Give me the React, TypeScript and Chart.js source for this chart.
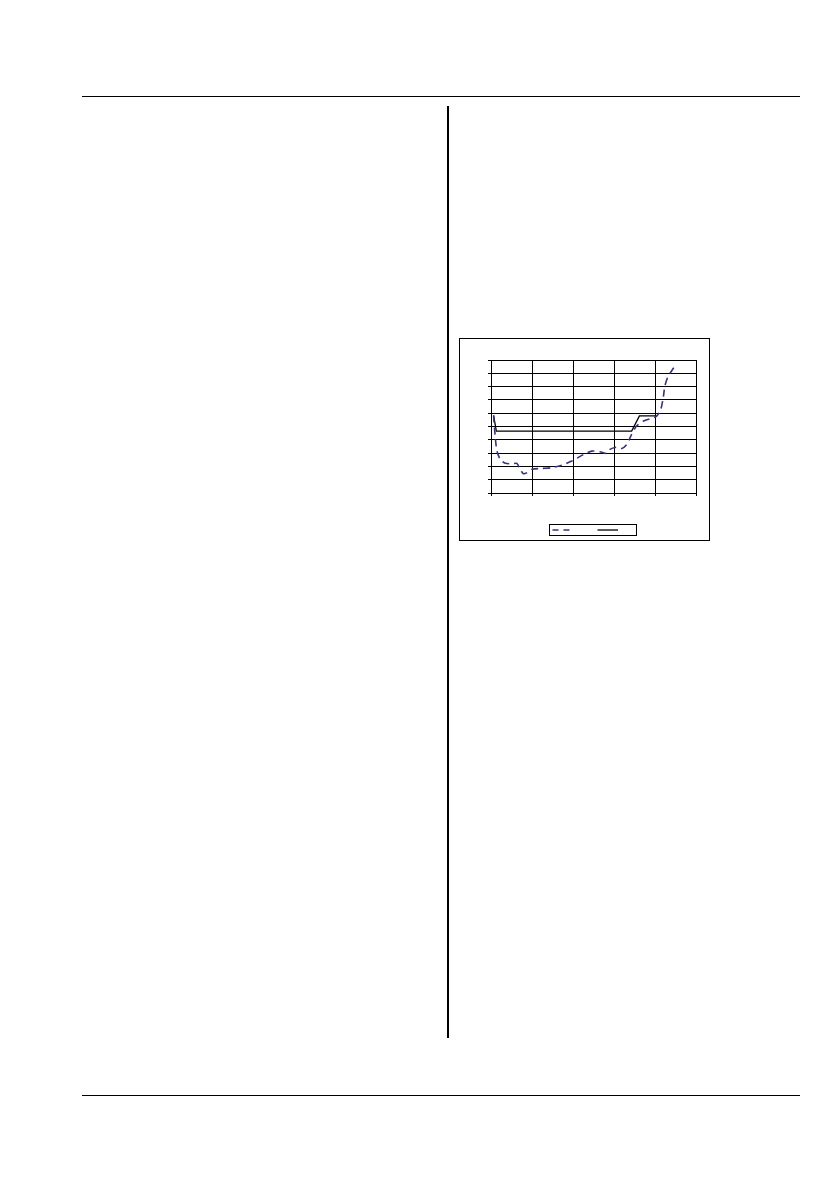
import React, { useRef, useEffect } from "react";
import { Chart, registerables } from "chart.js";

Chart.register(...registerables);

// measured curve (dashed, blue)
const measuredX = [
  0.063, 0.105, 0.146, 0.226, 0.35, 0.51, 0.63, 0.71, 0.79, 0.88, 1.0, 1.24,
  1.48, 1.73, 1.97, 2.29, 2.46, 2.66, 2.82, 2.9, 3.07, 3.19, 3.31, 3.43, 3.55,
  3.71, 3.88, 4.04, 4.14, 4.2, 4.24, 4.32, 4.4, 4.48,
];
const measuredY = [
  5.83, 4.16, 3.15, 2.53, 2.23, 2.2, 2.23, 1.78, 1.45, 1.53, 1.78, 1.85, 1.9,
  2.1, 2.4, 2.95, 3.15, 3.1, 2.98, 3.28, 3.45, 3.35, 3.65, 4.4, 5.03, 5.4,
  5.58, 5.78, 6.28, 7.15, 8.03, 8.78, 9.15, 9.53,
];

// limit curve (solid, black)
const limitX = [0.063, 0.13, 3.43, 3.62, 4.04];
const limitY = [5.83, 4.65, 4.65, 5.8, 5.8];

const xMin = 0;
const xMax = 5;
const yMin = 0;
const yMax = 10;

const toPoints = (xs: number[], ys: number[]) =>
  xs.map((x, i) => ({ x, y: ys[i] }));

const ChartBox: React.FC = () => {
  const canvasRef = useRef<HTMLCanvasElement | null>(null);

  useEffect(() => {
    if (!canvasRef.current) return;
    const chart = new Chart(canvasRef.current, {
      type: "line",
      data: {
        datasets: [
          {
            label: "",
            data: toPoints(measuredX, measuredY),
            borderColor: "#34347e",
            borderWidth: 1.6,
            borderDash: [7, 5],
            pointRadius: 0,
            tension: 0.25,
            fill: false,
          },
          {
            label: "",
            data: toPoints(limitX, limitY),
            borderColor: "#000000",
            borderWidth: 1.3,
            pointRadius: 0,
            tension: 0,
            fill: false,
          },
        ],
      },
      options: {
        animation: false,
        responsive: false,
        maintainAspectRatio: false,
        layout: { padding: { left: 28, right: 13, top: 21, bottom: 44 } },
        plugins: {
          legend: { display: false },
          tooltip: { enabled: false },
        },
        scales: {
          x: {
            type: "linear",
            min: xMin,
            max: xMax,
            ticks: { display: false, stepSize: 1 },
            grid: { color: "#000", lineWidth: 1, tickLength: 3 },
            border: { color: "#000", width: 1 },
            afterFit: (scale: any) => {
              scale.height = 3;
            },
          },
          y: {
            min: yMin,
            max: yMax,
            ticks: { display: false, stepSize: 1 },
            grid: { color: "#000", lineWidth: 1, tickLength: 3 },
            border: { color: "#000", width: 1 },
            afterFit: (scale: any) => {
              scale.width = 3;
            },
          },
        },
      },
    });
    return () => chart.destroy();
  }, []);

  return (
    <canvas
      ref={canvasRef}
      width={249}
      height={201}
      style={{ position: "absolute", left: 0, top: 0, width: 249, height: 201 }}
    />
  );
};

const App: React.FC = () => {
  return (
    <div
      style={{
        position: "absolute",
        left: 0,
        top: 0,
        width: 840,
        height: 1192,
        background: "#fff",
      }}
    >
      {/* page rules */}
      <div style={{ position: "absolute", left: 82, top: 95.5, width: 718, height: 1, background: "#000" }} />
      <div style={{ position: "absolute", left: 446.5, top: 106, width: 2, height: 932, background: "#000" }} />
      <div style={{ position: "absolute", left: 82, top: 1095, width: 718, height: 1, background: "#000" }} />

      {/* chart frame */}
      <div
        style={{
          position: "absolute",
          left: 459,
          top: 338,
          width: 251,
          height: 203,
          border: "1px solid #000",
          boxSizing: "border-box",
        }}
      >
        <ChartBox />
        <div
          style={{
            position: "absolute",
            left: 89,
            top: 185,
            width: 88,
            height: 12,
            border: "1px solid #000",
            boxSizing: "border-box",
            background: "#fff",
          }}
        >
          <svg width={86} height={10} style={{ position: "absolute", left: 0, top: 0 }}>
            <line x1={2.5} y1={5} x2={21} y2={5} stroke="#34347e" strokeWidth={1.6} strokeDasharray="6 5" />
            <line x1={47.5} y1={5} x2={68} y2={5} stroke="#000" strokeWidth={1.3} />
          </svg>
        </div>
      </div>
    </div>
  );
};

export default App;
